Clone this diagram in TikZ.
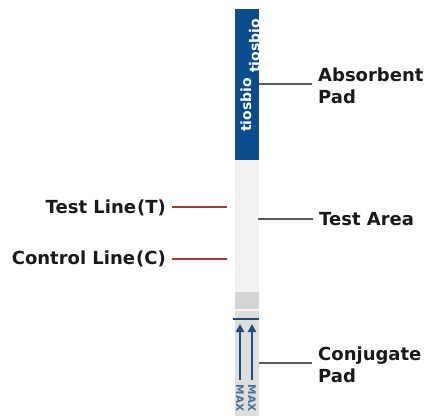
\documentclass[tikz,border=0pt]{standalone}
\usepackage{fontspec}
\setmainfont{DejaVu Sans}
\usetikzlibrary{arrows.meta}
\definecolor{stripblue}{HTML}{0B4C8C}
\definecolor{arrowblue}{HTML}{1D4F7C}
\definecolor{redline}{HTML}{A33B3B}
\definecolor{leadgray}{HTML}{5A5A5A}

\begin{document}
\begin{tikzpicture}[x=1pt,y=-1pt,
    lbl/.style={font=\fontsize{18}{22}\selectfont\bfseries,inner sep=0pt,text=black!90},
    brand/.style={rotate=90,text=white,font=\fontsize{14}{14}\selectfont\bfseries},
    lead/.style={leadgray,line width=2.6pt},
    redlead/.style={redline,line width=2.6pt}]
  \useasboundingbox (0,0) rectangle (430,416);
  % strip
  \fill[stripblue] (235,9) rectangle (259,160);
  \fill[black!5] (235,160) rectangle (259,292);
  \fill[black!17] (235,292) rectangle (259,309);
  \fill[orange!12] (235,309) rectangle (259,311);
  \fill[black!13] (235,311) rectangle (259,416);
  \draw[arrowblue,line width=2pt] (233,319) -- (259,319);
  \begin{scope}
    \clip (235,9) rectangle (259,160);
    \node[brand] (brand1) at (246,105) {tiosbio};
    \node[brand] (brand2) at (254.5,46) {tiosbio};
  \end{scope}
  \foreach \x in {240,252} {
    \draw[arrowblue,line width=2pt,-{Triangle[width=8pt,length=8pt]}] (\x,380) -- (\x,324);
    \node[rotate=-90,text=arrowblue!80,font=\fontsize{10.5}{10.5}\selectfont\bfseries,inner sep=0pt] at (\x,398) {MAX};
  }
  % points on the strip
  \coordinate (padpt) at (259,84);
  \coordinate (areapt) at (258,219);
  \coordinate (conjpt) at (259,363);
  \coordinate (tpt) at (227,207);
  \coordinate (cpt) at (227,259);
  % labels
  \node[lbl,anchor=west,align=left] (absorb) at (318,86) {Absorbent\\Pad};
  \node[lbl,anchor=west] (area) at (319,219) {Test Area};
  \node[lbl,anchor=west,align=left] (conj) at (318,365) {Conjugate\\Pad};
  \node[lbl,anchor=east] (tline) at (166,208) {Test Line\kern1pt(T)};
  \node[lbl,anchor=east] (cline) at (166,259) {Control Line\kern1pt(C)};
  % leads
  \draw[lead] (padpt) -- ([xshift=-6pt]padpt -| absorb.west);
  \draw[lead] (areapt) -- ([xshift=-6pt]areapt -| area.west);
  \draw[lead] (conjpt) -- ([xshift=-6pt]conjpt -| conj.west);
  \draw[redlead] ([xshift=6pt]tline.east |- tpt) -- (tpt);
  \draw[redlead] ([xshift=6pt]cline.east |- cpt) -- (cpt);
\end{tikzpicture}
\end{document}
